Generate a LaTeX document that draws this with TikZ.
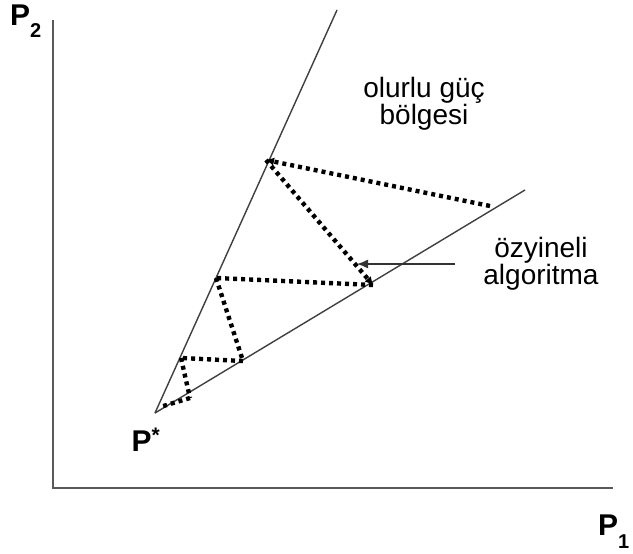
\documentclass[tikz,border=0pt]{standalone}
\usepackage{fontspec}
\setmainfont{Liberation Sans}
\usetikzlibrary{arrows.meta}
\newcommand{\lowsub}[1]{\raisebox{-13pt}{\fontsize{20}{20}\selectfont #1}}
\begin{document}
\begin{tikzpicture}[x=1pt,y=-1pt,
  axisline/.style={draw=black!65,line width=2.4pt},
  boundline/.style={draw=black!75,line width=1.4pt},
  dotline/.style={draw=black,line width=4.4pt,dash pattern=on 4pt off 4pt},
  dottip/.style={-{Latex[length=8pt,width=8pt,line width=0pt]}},
  lbl/.style={font=\fontsize{28}{27}\selectfont,align=center,inner sep=0pt},
  axlbl/.style={font=\fontsize{30}{30}\selectfont\bfseries,inner sep=0pt}]
\useasboundingbox (0,0) rectangle (633,554);
\fill[white] (0,0) rectangle (633,554);
% axes
\coordinate (O) at (53,488);
\coordinate (ytop) at (53,20);
\coordinate (xend) at (613,488);
\draw[axisline] (ytop) -- (O) -- (xend);
% boundary lines
\coordinate (Ps) at (155,413);
\coordinate (utop) at (337,10);
\coordinate (lend) at (525,190);
\draw[boundline] (Ps) -- (utop);
\draw[boundline] (Ps) -- (lend);
% recursion points
\coordinate (a0) at (490,206);
\coordinate (a1) at (266,160);
\coordinate (a2) at (373,285);
\coordinate (a3) at (216,278);
\coordinate (a4) at (243,361);
\coordinate (a5) at (181,358);
\coordinate (a6) at (190,398);
\coordinate (a7) at (160,407);
\draw[dotline,dottip] (a0) -- (a1);
\draw[dotline,dottip] (a1) -- (a2);
\draw[dotline] (a2) -- (a3);
\draw[dotline] (a3) -- (a4);
\draw[dotline] (a4) -- (a5);
\draw[dotline] (a5) -- (a6);
\draw[dotline] (a6) -- (a7);
% labels
\node[lbl] (reg) at (424,104) {olurlu güç\\bölgesi};
\node[lbl] (alg) at (541,264) {özyineli\\algoritma};
\coordinate (arrs) at (455,264);
\coordinate (arre) at (357,264);
\draw[black!80,line width=1.4pt,-{Latex[length=11pt,width=9pt]}] (arrs) -- (arre);
\node[axlbl,anchor=base west] (p2) at (10,25) {P\lowsub{2}};
\node[axlbl,anchor=base west] (p1) at (598,535) {P\lowsub{1}};
\node[axlbl] (pstar) at (146,440) {P\textsuperscript{*}};
\end{tikzpicture}
\end{document}
